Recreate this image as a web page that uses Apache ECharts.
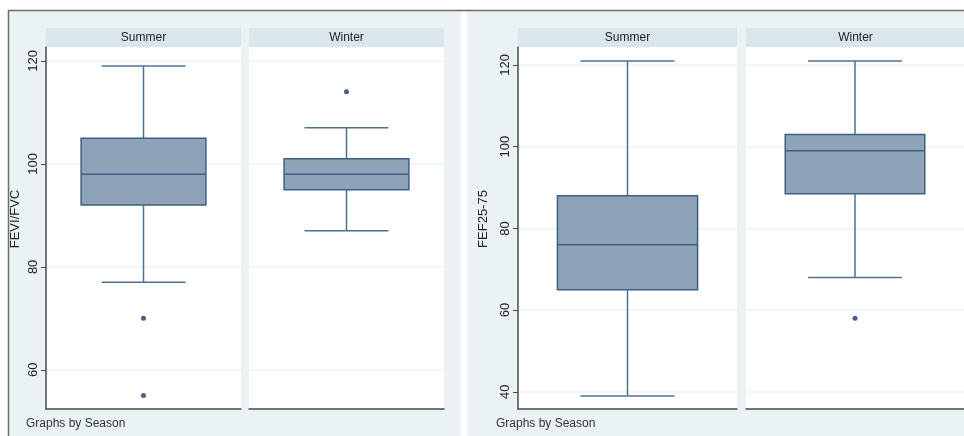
<!DOCTYPE html>
<html>
<head>
<meta charset="utf-8">
<script src="https://cdn.jsdelivr.net/npm/echarts@6/dist/echarts.min.js"></script>
<style>
  html, body { margin: 0; padding: 0; background: #fff; }
  #chart { width: 964px; height: 436px; }
</style>
</head>
<body>
<div id="chart"></div>
<script>
  // box stats: [lower whisker, Q1, median, Q3, upper whisker]
  var seasons = ['Summer', 'Winter'];
  var fevStats = [[77, 92, 98, 105, 119], [87, 95, 98, 101, 107]];
  var fevOutliers = [[70, 55], [114]];
  var fefStats = [[39, 65, 76, 88, 121], [68, 88.5, 99, 103, 121]];
  var fefOutliers = [[], [58]];
  var fevTicks = [60, 80, 100, 120];
  var fefTicks = [40, 60, 80, 100, 120];

  var font = "'Liberation Sans Narrow', 'Arial Narrow', 'Liberation Sans', Arial, sans-serif";
  var boxFill = '#8fa3b8';
  var boxLine = '#3e5f86';
  var whiskerLine = '#4f6f93';
  var dotColor = '#17386a';
  var gridLine = '#edf3f5';
  var axisColor = '#4a4a4a';

  // plot areas: left panel summer/winter, right panel summer/winter
  var panels = [
    {left: 46, width: 195, stats: fevStats[0], out: fevOutliers[0], min: 52.4, max: 122.7, ticks: fevTicks, name: 'FEVI/FVC', gap: 24, first: true},
    {left: 249, width: 195, stats: fevStats[1], out: fevOutliers[1], min: 52.4, max: 122.7, ticks: fevTicks},
    {left: 518, width: 219, stats: fefStats[0], out: fefOutliers[0], min: 35.8, max: 124.4, ticks: fefTicks, name: 'FEF25-75', gap: 28, first: true},
    {left: 746, width: 219, stats: fefStats[1], out: fefOutliers[1], min: 35.8, max: 124.4, ticks: fefTicks}
  ];
  var plotTop = 47, plotHeight = 362;

  function renderBox(params, api) {
    var v = [api.value(1), api.value(2), api.value(3), api.value(4), api.value(5)];
    var band = api.size([1, 0])[0];
    var cx = api.coord([0, v[2]])[0];
    var y = v.map(function (d) { return api.coord([0, d])[1]; });
    var bw = band * 0.64, cw = band * 0.43;
    var ls = {stroke: whiskerLine, lineWidth: 1.5};
    return {
      type: 'group',
      children: [
        {type: 'line', shape: {x1: cx, y1: y[3], x2: cx, y2: y[4]}, style: ls},
        {type: 'line', shape: {x1: cx, y1: y[1], x2: cx, y2: y[0]}, style: ls},
        {type: 'line', shape: {x1: cx - cw / 2, y1: y[4], x2: cx + cw / 2, y2: y[4]}, style: ls},
        {type: 'line', shape: {x1: cx - cw / 2, y1: y[0], x2: cx + cw / 2, y2: y[0]}, style: ls},
        {type: 'rect', shape: {x: cx - bw / 2, y: y[3], width: bw, height: y[1] - y[3]},
          style: {fill: boxFill, stroke: boxLine, lineWidth: 1.5}},
        {type: 'line', shape: {x1: cx - bw / 2, y1: y[2], x2: cx + bw / 2, y2: y[2]},
          style: {stroke: boxLine, lineWidth: 1.5}}
      ]
    };
  }

  var grids = [], xAxes = [], yAxes = [], series = [];
  var graphics = [
    {type: 'rect', shape: {x: 8, y: 10, width: 453, height: 426}, style: {fill: '#eaf2f4'}, z: -10},
    {type: 'rect', shape: {x: 467, y: 10, width: 497, height: 426}, style: {fill: '#eaf2f4'}, z: -10},
    {type: 'line', shape: {x1: 8, y1: 10.5, x2: 964, y2: 10.5}, style: {stroke: '#6e6e6e', lineWidth: 1.5}},
    {type: 'line', shape: {x1: 8.5, y1: 10, x2: 8.5, y2: 436}, style: {stroke: '#6e6e6e', lineWidth: 1.5}},
    {type: 'text', left: 26, top: 418, style: {text: 'Graphs by Season', font: '12px ' + font, fill: '#333'}},
    {type: 'text', left: 496, top: 418, style: {text: 'Graphs by Season', font: '12px ' + font, fill: '#333'}}
  ];

  panels.forEach(function (p, i) {
    grids.push({left: p.left, top: plotTop, width: p.width, height: plotHeight,
      show: true, backgroundColor: '#fff', borderWidth: 0});
    xAxes.push({type: 'category', gridIndex: i, data: [seasons[i % 2]],
      axisLine: {lineStyle: {color: axisColor, width: 1.5}},
      axisTick: {show: false}, axisLabel: {show: false}, splitLine: {show: false}});
    yAxes.push({type: 'value', gridIndex: i, min: p.min, max: p.max,
      name: p.first ? p.name : '', nameLocation: 'middle', nameGap: p.gap || 0, nameRotate: 90,
      nameTextStyle: {fontSize: 13, color: '#222', padding: [0, 0, 0, 18],
        fontFamily: 'Liberation Sans, Arial, sans-serif'},
      axisLine: {show: !!p.first, lineStyle: {color: axisColor, width: 1.5}},
      axisTick: {show: !!p.first, customValues: p.ticks, length: 5, lineStyle: {color: axisColor}},
      axisLabel: {show: !!p.first, customValues: p.ticks, rotate: 90, margin: 6,
        fontSize: 13, color: '#222', fontFamily: 'Liberation Sans, Arial, sans-serif'},
      splitLine: {show: true, lineStyle: {color: gridLine, width: 1.5}}});
    series.push({type: 'custom', xAxisIndex: i, yAxisIndex: i,
      renderItem: renderBox, encode: {x: 0, y: [1, 2, 3, 4, 5]},
      data: [[0].concat(p.stats)], z: 3});
    series.push({type: 'scatter', xAxisIndex: i, yAxisIndex: i, symbol: 'circle', symbolSize: 5,
      itemStyle: {color: dotColor},
      data: p.out.map(function (v) { return [0, v]; }), z: 4});
    graphics.push({type: 'rect', shape: {x: p.left, y: 28, width: p.width, height: 19},
      style: {fill: '#d9e6ec'}});
    graphics.push({type: 'text', x: p.left + p.width / 2, y: 38,
      style: {text: seasons[i % 2], font: '12px ' + font, fill: '#222', align: 'center', verticalAlign: 'middle'}});
  });

  var myChart = echarts.init(document.getElementById('chart'));
  myChart.setOption({
    animation: false,
    backgroundColor: '#fff',
    grid: grids,
    xAxis: xAxes,
    yAxis: yAxes,
    series: series,
    graphic: graphics
  });
</script>
</body>
</html>
